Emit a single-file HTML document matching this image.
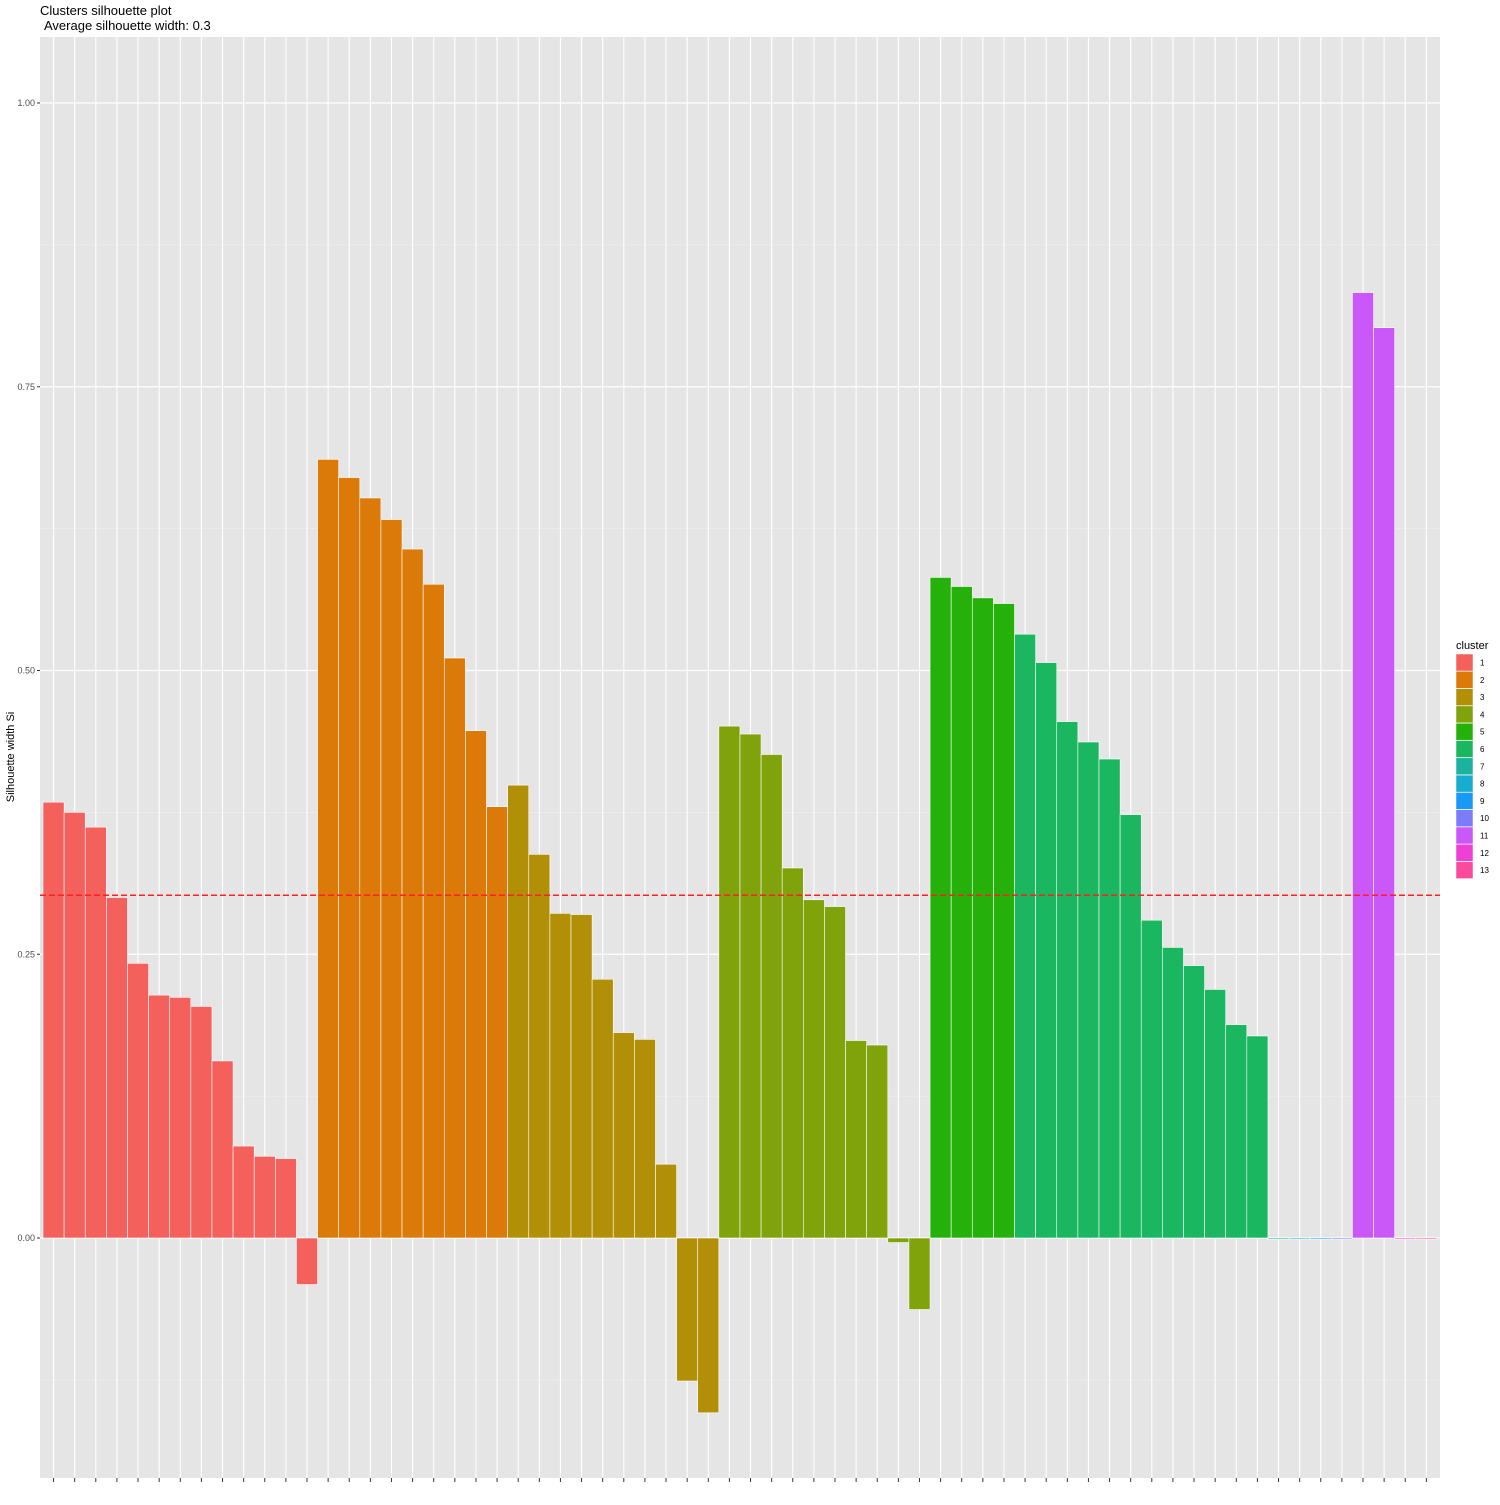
<!DOCTYPE html>
<html><head><meta charset="utf-8"><style>
body{margin:0;background:#fff;font-family:"Liberation Sans",sans-serif}
</style></head><body>
<svg id="chart" width="1500" height="1500" xmlns="http://www.w3.org/2000/svg" font-family="Liberation Sans, sans-serif">
<text x="40" y="15" font-size="13">Clusters silhouette plot</text>
<text x="44" y="30" font-size="13">Average silhouette width: 0.3</text>
<text transform="translate(14,757) rotate(-90)" text-anchor="middle" font-size="11">Silhouette width Si</text>
<rect x="40" y="37" width="1400" height="1441" fill="#e5e5e5"/>
<g id="grid"></g><g id="bars"></g><g id="axes"></g><g id="legend"></g>
</svg>
<script>
const clusters=[1,2,3,4,5,6,7,8,9,10,11,12,13];
const clusterColors=["#F4615C","#DB7A08","#B18F07","#80A20B","#26B10A","#1AB660","#1BB3A0","#18ADD0","#1799F5","#7C7BF9","#CA57F8","#EE3FD6","#F94A9E"];
const barCluster=[1,1,1,1,1,1,1,1,1,1,1,1,1,2,2,2,2,2,2,2,2,2,3,3,3,3,3,3,3,3,3,3,4,4,4,4,4,4,4,4,4,4,5,5,5,5,6,6,6,6,6,6,6,6,6,6,6,6,7,8,9,10,11,11,12,13];
const silWidth=[0.384,0.375,0.362,0.300,0.242,0.214,0.212,0.204,0.156,0.081,0.072,0.070,-0.041,
0.686,0.670,0.652,0.633,0.607,0.576,0.511,0.447,0.380,
0.399,0.338,0.286,0.285,0.228,0.181,0.175,0.065,-0.126,-0.154,
0.451,0.444,0.426,0.326,0.298,0.292,0.174,0.170,-0.004,-0.063,
0.582,0.574,0.564,0.559,
0.532,0.507,0.455,0.437,0.422,0.373,0.280,0.256,0.240,0.219,0.188,0.178,
-0.001,-0.001,-0.001,-0.001,0.833,0.802,-0.001,-0.001];
const yTicks=[0,0.25,0.5,0.75,1.0];
const yTickLabels=["0.00","0.25","0.50","0.75","1.00"];
const avgSil=0.302;
const NS="http://www.w3.org/2000/svg";
const X0=43,BW=21.12,Y0=1238,YS=1135;
const xs=i=>X0+i*BW, ys=v=>Y0-v*YS;
function mk(t,a,p){const e=document.createElementNS(NS,t);for(const k in a)e.setAttribute(k,a[k]);p.appendChild(e);return e;}
const grid=document.getElementById('grid'),bars=document.getElementById('bars'),axes=document.getElementById('axes'),leg=document.getElementById('legend');
for(let k=0;k<yTicks.length-1;k++){const v=(yTicks[k]+yTicks[k+1])/2;const l=mk('line',{x1:40,x2:1440,y1:ys(v),y2:ys(v),stroke:'#f2f2f2','stroke-width':0.6},grid);}
[-0.125].forEach(v=>{const l=mk('line',{x1:40,x2:1440,y1:ys(v),y2:ys(v),stroke:'#f2f2f2','stroke-width':0.6},grid);});
yTicks.forEach((v,k)=>{const l=mk('line',{x1:40,x2:1440,y1:ys(v),y2:ys(v),stroke:'#fff','stroke-width':1.2},grid);
const t=mk('text',{x:35,y:ys(v)+3,'text-anchor':'end','font-size':9,fill:'#4d4d4d'},axes);t.textContent=yTickLabels[k];
const tk=mk('line',{x1:37,x2:40,y1:ys(v),y2:ys(v),stroke:'#333'},axes);});
silWidth.forEach((v,i)=>{const cx=xs(i)+BW/2;
const g=mk('line',{x1:cx,x2:cx,y1:37,y2:1478,stroke:'#fff','stroke-width':1.1},grid);
const tk=mk('line',{x1:cx,x2:cx,y1:1478,y2:1482,stroke:'#333'},axes);
const c=clusterColors[barCluster[i]-1];const top=Math.min(ys(v),Y0),h=Math.max(Math.abs(ys(v)-Y0),0.8);
const r=mk('rect',{x:xs(i),y:top,width:BW,height:h,fill:c,stroke:'#fff','stroke-width':0.6},bars);});
const al=mk('line',{x1:40,x2:1440,y1:ys(avgSil),y2:ys(avgSil),stroke:'#ff2020','stroke-width':1.5,'stroke-dasharray':'6,3'},bars);

const lt=mk('text',{x:1456,y:649,'font-size':11},leg);lt.textContent='cluster';
clusters.forEach((c,k)=>{const y=654+k*17.3;
const r=mk('rect',{x:1456,y:y,width:17,height:17,fill:clusterColors[k],stroke:'#fff','stroke-width':0.5},leg);
const t=mk('text',{x:1480,y:y+11.5,'font-size':8},leg);t.textContent=c;});
</script>
</body></html>
